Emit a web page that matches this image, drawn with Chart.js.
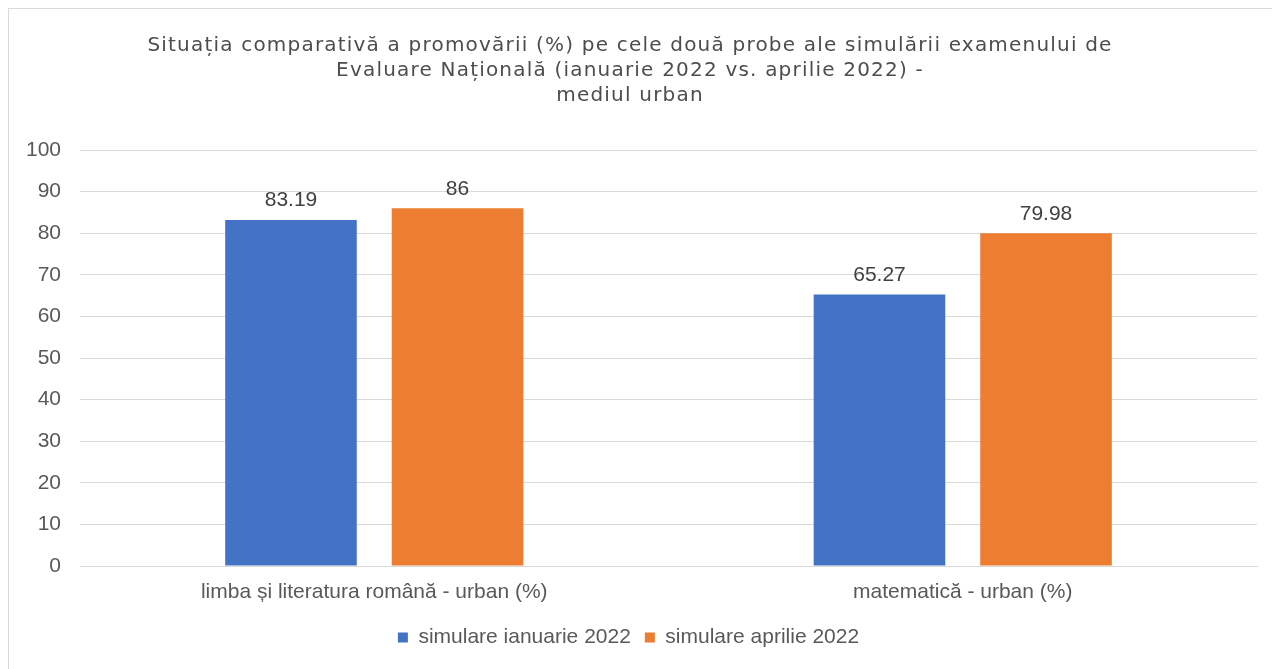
<!DOCTYPE html>
<html>
<head>
<meta charset="utf-8">
<script src="https://cdn.jsdelivr.net/npm/chart.js@4.4.1/dist/chart.umd.min.js"></script>
<style>
  html, body { margin: 0; padding: 0; background: #fff; }
  body { width: 1272px; height: 669px; overflow: hidden; position: relative; }
  #frame { position: absolute; left: 8px; top: 8px; width: 1290px; height: 700px; border: 1px solid #d9d9d9; box-sizing: border-box; }
  #wrap { position: absolute; left: 0; top: 0; width: 1272px; height: 669px; }
</style>
</head>
<body>
<div id="frame"></div>
<div id="wrap"><canvas id="chart"></canvas></div>
<script>
// ---- Data ---------------------------------------------------------------

const categories = ["limba și literatura română - urban (%)", "matematică - urban (%)"];
const januaryValues = [83.19, 65.27];
const aprilValues = [86, 79.98];
const seriesNames = ["simulare ianuarie 2022", "simulare aprilie 2022"];
const titleLines = [
  "Situația comparativă a promovării (%) pe cele două probe ale simulării examenului de",
  "Evaluare Națională (ianuarie 2022 vs. aprilie 2022) -",
  "mediul urban",
];

const BLUE = "#4472c4";
const ORANGE = "#ed7d31";
const FONT = "'Liberation Sans', Arial, sans-serif";

// Title drawn by hand: the original is wider than any font here
const spacedTitle = {
  id: "spacedTitle",
  afterDraw(chart) {
    const ctx = chart.ctx;
    ctx.save();
    ctx.font = "20px 'DejaVu Sans', sans-serif";
    ctx.letterSpacing = "1.2px";
    ctx.fillStyle = "#4d4d4d";
    ctx.textAlign = "center";
    ctx.textBaseline = "middle";
    const cx = chart.width / 2 - 6;
    titleLines.forEach((line, i) => ctx.fillText(line, cx, 46 + i * 25));
    ctx.restore();
  },
};

// Draw the value above each bar
const valueLabels = {
  id: "valueLabels",
  afterDatasetsDraw(chart) {
    const ctx = chart.ctx;
    ctx.save();
    ctx.font = `21px ${FONT}`;
    ctx.fillStyle = "#404040";
    ctx.textAlign = "center";
    ctx.textBaseline = "bottom";
    chart.data.datasets.forEach((ds, i) => {
      chart.getDatasetMeta(i).data.forEach((bar, j) => {
        ctx.fillText(String(ds.data[j]), bar.x, bar.y - 9);
      });
    });
    ctx.restore();
  },
};

new Chart(document.getElementById("chart"), {
  type: "bar",
  data: {
    labels: categories,
    datasets: [
      { label: seriesNames[0], data: januaryValues, backgroundColor: BLUE },
      { label: seriesNames[1], data: aprilValues, backgroundColor: ORANGE },
    ],
  },
  options: {
    responsive: true,
    maintainAspectRatio: false,
    animation: false,
    datasets: { bar: { categoryPercentage: 0.566, barPercentage: 0.79 } },
    layout: { padding: { left: 0, right: 15, top: 150, bottom: 11 } },
    plugins: {
      title: { display: false },
      legend: {
        position: "bottom",
        labels: {
          color: "#595959",
          font: { family: FONT, size: 21 },
          boxWidth: 10,
          boxHeight: 10,
          padding: 14,
        },
      },
      tooltip: { enabled: false },
    },
    scales: {
      x: {
        afterFit(scale) { scale.height = 47; },
        grid: { display: false },
        border: { color: "#d9d9d9" },
        ticks: { color: "#595959", font: { family: FONT, size: 21 }, padding: 6 },
      },
      y: {
        min: 0,
        max: 100,
        afterFit(scale) { scale.width = 80; },
        ticks: { stepSize: 10, color: "#595959", font: { family: FONT, size: 21 }, padding: 19 },
        grid: { color: "#d9d9d9", drawTicks: false },
        border: { display: false },
      },
    },
  },
  plugins: [valueLabels, spacedTitle],
});
</script>
</body>
</html>
